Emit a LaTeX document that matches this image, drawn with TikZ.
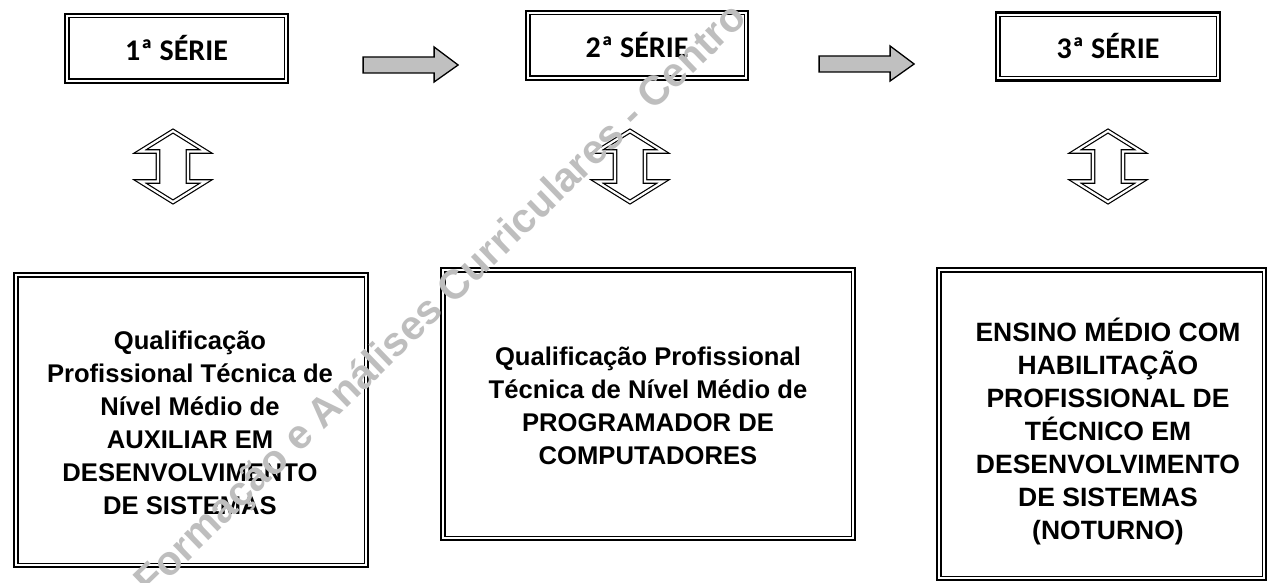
\documentclass[tikz,border=0pt]{standalone}
\usepackage{fontspec}
\setmainfont{Liberation Sans}
\newfontfamily\calfont{Carlito}
\usetikzlibrary{calc}
\definecolor{wm}{RGB}{190,190,190}
\definecolor{arrowfill}{RGB}{192,192,192}
\tikzset{
  outerbox/.style={draw, line width=2.2pt, inner sep=0pt},
  innerbox/.style={draw, line width=1.2pt},
  hdr/.style={font=\calfont\bfseries\fontsize{30}{30}\selectfont},
  btxt/.style={align=center, inner sep=0pt, font=\bfseries\fontsize{#1}{33}\selectfont},
  rarrow/.style={draw, line width=1.3pt, fill=arrowfill, line join=miter},
  udstyle/.style={draw, line width=1.2pt, double, double distance=2.2pt, line join=miter},
  udarrow/.pic={\draw[udstyle] (0,-35.5) -- (33,-15) -- (15,-15) -- (15,15) -- (33,15) -- (0,35.5) -- (-33,15) -- (-15,15) -- (-15,-15) -- (-33,-15) -- cycle;},
  wmark/.style={text=wm, inner sep=0pt, font=\bfseries\fontsize{41}{41}\selectfont}
}
\begin{document}
\begin{tikzpicture}[x=1pt,y=-1pt]
\useasboundingbox (0,0) rectangle (1273,583);
% header boxes
\node[outerbox, minimum width=223pt, minimum height=69pt] (h1) at (176.5,48.5) {};
\node[outerbox, minimum width=222pt, minimum height=69pt] (h2) at (637,45.5) {};
\node[outerbox, minimum width=224pt, minimum height=68pt] (h3) at (1108,46.5) {};
\foreach \n in {h1,h2,h3}{
  \draw[innerbox] ($(\n.north west)+(5,5)$) rectangle ($(\n.south east)+(-5,-5)$);
}
\node[hdr] (t1) at (h1.center) {1ª SÉRIE};
\node[hdr] (t2) at (h2.center) {2ª SÉRIE};
\node[hdr] (t3) at (h3.center) {3ª SÉRIE};
% block arrows
\draw[rarrow] ($(h1.east)+(74,8.5)$) coordinate (a1s) -- ++(71,0) -- ++(0,-10) -- ++(24,18) -- ++(-24,17) -- ++(0,-9) -- ++(-71,0) -- cycle;
\draw[rarrow] ($(h2.east)+(70,10.5)$) coordinate (a2s) -- ++(71,0) -- ++(0,-10) -- ++(24,18) -- ++(-24,17) -- ++(0,-9) -- ++(-71,0) -- cycle;
% up-down arrows
\pic at (173,166.5) {udarrow};
\pic at (630,166.5) {udarrow};
\pic at (1108,166.5) {udarrow};
% bottom boxes
\node[outerbox, minimum width=354pt, minimum height=294pt] (bA) at (191,420) {};
\node[outerbox, minimum width=414pt, minimum height=272pt] (bB) at (648,404) {};
\node[outerbox, minimum width=329pt, minimum height=312pt] (bC) at (1101.5,424) {};
\foreach \n in {bA,bB,bC}{
  \draw[innerbox] ($(\n.north west)+(5,5)$) rectangle ($(\n.south east)+(-5,-5)$);
}
\node[btxt=25.6] (tA) at (190,423) {Qualificação\\Profissional Técnica de\\Nível Médio de\\AUXILIAR EM\\DESENVOLVIMENTO\\DE SISTEMAS};
\node[btxt=25.6] (tB) at (648,406) {Qualificação Profissional\\Técnica de Nível Médio de\\PROGRAMADOR DE\\COMPUTADORES};
\node[btxt=26.5] (tC) at (1108,432) {ENSINO MÉDIO COM\\HABILITAÇÃO\\PROFISSIONAL DE\\TÉCNICO EM\\DESENVOLVIMENTO\\DE SISTEMAS\\(NOTURNO)};
% watermark
\node[wmark, rotate=44, anchor=base west] (wmk) at (150,598) {Formação e Análises Curriculares - Centro};
\end{tikzpicture}
\end{document}
